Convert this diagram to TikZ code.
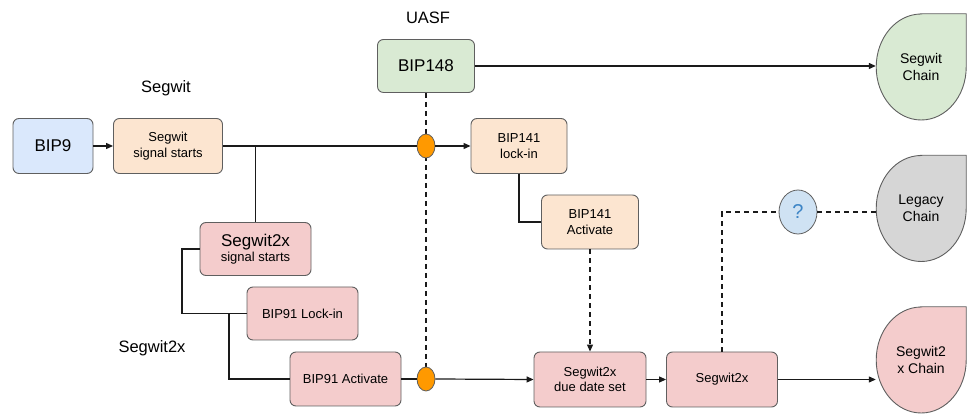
\documentclass[tikz,border=0pt]{standalone}
\usepackage{fontspec}
\setmainfont{Liberation Sans}
\usetikzlibrary{arrows.meta,shapes.geometric}
\definecolor{cblue}{HTML}{DAE8FC}
\definecolor{cpeach}{HTML}{FCE5D0}
\definecolor{cgreen}{HTML}{D9EAD3}
\definecolor{cpink}{HTML}{F4CCCC}
\definecolor{cgray}{HTML}{D6D6D6}
\definecolor{corange}{HTML}{FF9900}
\definecolor{cqblue}{HTML}{CFE2F3}
\definecolor{cqtext}{HTML}{3D85C6}
\definecolor{cedge}{HTML}{5F5F5F}
\definecolor{cline}{HTML}{1A1A1A}
\tikzset{
  x=1pt,y=1pt,
  box/.style={draw=cedge,line width=0.9pt,rounded corners=6pt,align=center,inner sep=0pt,font=\fontsize{13}{15.5}\selectfont},
  bigtxt/.style={font=\fontsize{17}{19}\selectfont},
  lbl/.style={font=\fontsize{16.5}{19}\selectfont,inner sep=0pt},
  chainshape/.style={ellipse,minimum width=90pt,minimum height=106pt,inner sep=0pt,align=center,font=\fontsize{14}{17}\selectfont},
  conn/.style={draw=cline,line width=1.2pt},
  arr/.style={conn,-{Triangle[length=7pt,width=6pt]}},
  dsh/.style={conn,dash pattern=on 5pt off 4pt},
  knot/.style={ellipse,draw=cedge,fill=corange,line width=0.8pt,minimum width=18pt,minimum height=24pt,inner sep=0pt},
}
\begin{document}
\begin{tikzpicture}
\useasboundingbox (0,0) rectangle (973,414);
% boxes
\node[box,fill=cblue,minimum width=80pt,minimum height=55pt,bigtxt] (bip9) at (53,268) {BIP9};
\node[box,fill=cpeach,minimum width=109pt,minimum height=55pt] (sss) at (168,268) {Segwit\\signal starts};
\node[lbl] (lsegwit) at (166,326) {Segwit};
\node[lbl] (luasf) at (428,396) {UASF};
\node[box,fill=cgreen,minimum width=97pt,minimum height=53pt,bigtxt] (b148) at (426,348) {BIP148};
\node[box,fill=cpeach,minimum width=96pt,minimum height=55pt] (b141l) at (519,268) {BIP141\\lock-in};
\node[box,fill=cpeach,minimum width=97pt,minimum height=54pt] (b141a) at (590,192) {BIP141\\Activate};
\node[box,fill=cpink,minimum width=111pt,minimum height=53pt] (s2xs) at (255.5,165) {{\fontsize{17}{19}\selectfont Segwit2x}\\signal starts};
\node[box,fill=cpink,minimum width=111pt,minimum height=53pt] (b91l) at (302.5,100.5) {BIP91 Lock-in};
\node[box,fill=cpink,minimum width=111pt,minimum height=54pt] (b91a) at (345.5,35) {BIP91 Activate};
\node[lbl] (lsegwit2x) at (152,66) {Segwit2x};
\node[box,fill=cpink,minimum width=112pt,minimum height=55pt] (dds) at (590,34.5) {Segwit2x\\due date set};
\node[box,fill=cpink,minimum width=111pt,minimum height=55pt] (s2x) at (722,34.5) {Segwit2x};
% chains
\node[chainshape] (sc) at (921,347) {};
\node[chainshape] (lc) at (921,205.5) {};
\node[chainshape] (s2c) at (921,54) {};
\foreach \n/\c in {sc/cgreen,lc/cgray,s2c/cpink}{
  \draw[draw=cedge,line width=0.9pt,fill=\c] (\n.north) -- (\n.north -| \n.east) -- (\n.east)
    arc[start angle=0,end angle=-270,x radius=45pt,y radius=53pt] -- cycle;
}
\node[chainshape] at (sc) {Segwit\\Chain};
\node[chainshape] at (lc) {Legacy\\Chain};
\node[chainshape] at (s2c) {Segwit2\\x Chain};
% connectors
\draw[arr] (bip9) -- (sss);
\draw[dsh] (b148.south) -- (426,47);
\node[knot] (o1) at (426,268) {};
\node[knot] (o2) at (426,35) {};
\draw[conn] (sss.east) -- (o1.west);
\draw[arr] (o1.east) -- (b141l.west);
\draw[conn] (s2xs.north |- sss.east) -- (s2xs.north);
\draw[arr] (b148.east) -- (b148.east -| sc.west);
\coordinate (j1) at (182,165);
\coordinate (j2) at (229,100.5);
\draw[conn] (s2xs.west) -- (j1) |- (b91l.west);
\draw[conn] (j2) |- (b91a.west);
\draw[conn] (b91a.east) -- (o2.west);
\draw[arr] (o2.east) -- (dds.west);
\draw[conn] (b141l.south) |- (b141a.west);
\draw[dsh,-{Triangle[length=7pt,width=6pt]}] (b141a.south) -- (dds.north);
\draw[arr] (dds.east) -- (s2x.west);
\draw[arr] (s2x.east) -- (s2x.east -| s2c.west);
\node[ellipse,draw=cedge,fill=cqblue,line width=0.8pt,minimum width=38pt,minimum height=44pt,inner sep=0pt,text=cqtext,font=\fontsize{20}{22}\selectfont] (q) at (798,202) {?};
\coordinate (k1) at (722,202);
\draw[dsh] (s2x.north) -- (k1) -- (q.west);
\draw[dsh] (q.east) -- (q.east -| lc.west);
\end{tikzpicture}
\end{document}
